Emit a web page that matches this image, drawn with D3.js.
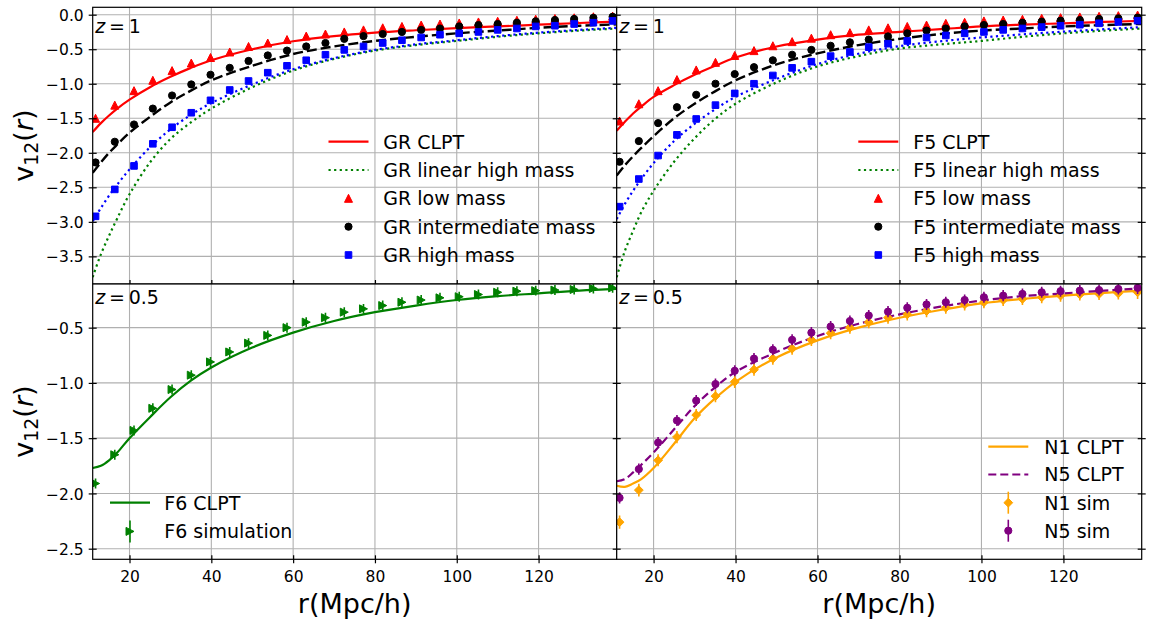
<!DOCTYPE html>
<html><head><meta charset="utf-8">
<script src="https://cdn.jsdelivr.net/npm/d3@7"></script>
<style>body{margin:0;background:#fff} text{font-family:"DejaVu Sans",sans-serif;fill:#000}</style>
</head><body><svg id="c" width="1154" height="621"></svg>
<script>
// ---------------- data ----------------
const r = [11.7, 16.4, 21.1, 25.7, 30.4, 35.1, 39.8, 44.5, 49.1, 53.8, 58.5, 63.2, 67.9, 72.5, 77.2, 81.9, 86.6, 91.3, 95.9, 100.6, 105.3, 110.0, 114.7, 119.3, 124.0, 128.7, 133.4, 138.1];

const grLow  = [-1.50, -1.31, -1.10, -0.95, -0.81, -0.70, -0.62, -0.54, -0.46, -0.41, -0.36, -0.31, -0.28, -0.25, -0.22, -0.19, -0.17, -0.15, -0.135, -0.12, -0.105, -0.095, -0.08, -0.065, -0.055, -0.045, -0.03, -0.02];
const grInt  = [-2.14, -1.84, -1.59, -1.36, -1.17, -1.01, -0.87, -0.77, -0.67, -0.59, -0.52, -0.46, -0.41, -0.35, -0.31, -0.28, -0.25, -0.22, -0.20, -0.17, -0.15, -0.135, -0.116, -0.096, -0.077, -0.062, -0.045, -0.03];
const grHigh = [-2.92, -2.53, -2.19, -1.87, -1.63, -1.42, -1.24, -1.09, -0.96, -0.84, -0.74, -0.66, -0.58, -0.51, -0.46, -0.41, -0.37, -0.33, -0.29, -0.27, -0.25, -0.22, -0.20, -0.17, -0.16, -0.135, -0.116, -0.09];

const f5Low  = [-1.54, -1.29, -1.10, -0.94, -0.80, -0.69, -0.59, -0.52, -0.45, -0.39, -0.34, -0.29, -0.26, -0.22, -0.19, -0.17, -0.15, -0.125, -0.11, -0.09, -0.077, -0.067, -0.053, -0.043, -0.033, -0.023, -0.014, -0.005];
const f5Int  = [-2.13, -1.83, -1.57, -1.34, -1.16, -1.00, -0.86, -0.76, -0.66, -0.58, -0.51, -0.45, -0.40, -0.36, -0.315, -0.27, -0.23, -0.20, -0.17, -0.15, -0.135, -0.116, -0.10, -0.087, -0.077, -0.062, -0.053, -0.043];
const f5High = [-2.78, -2.38, -2.04, -1.74, -1.51, -1.31, -1.14, -1.00, -0.88, -0.77, -0.68, -0.60, -0.54, -0.47, -0.42, -0.38, -0.33, -0.30, -0.27, -0.25, -0.22, -0.20, -0.18, -0.16, -0.145, -0.125, -0.106, -0.087];

const f6Sim  = [-1.91, -1.65, -1.43, -1.23, -1.06, -0.93, -0.81, -0.72, -0.64, -0.57, -0.50, -0.45, -0.41, -0.36, -0.33, -0.30, -0.27, -0.25, -0.23, -0.22, -0.20, -0.18, -0.17, -0.165, -0.16, -0.155, -0.146, -0.14];
const f6Err  = [0.045, 0.045, 0.045, 0.045, 0.045, 0.045, 0.045, 0.045, 0.045, 0.045, 0.045, 0.045, 0.045, 0.045, 0.045, 0.045, 0.045, 0.045, 0.045, 0.045, 0.045, 0.045, 0.045, 0.045, 0.045, 0.045, 0.045, 0.045];
const n1Sim  = [-2.26, -1.97, -1.70, -1.49, -1.29, -1.12, -0.99, -0.88, -0.78, -0.69, -0.61, -0.55, -0.50, -0.45, -0.41, -0.38, -0.35, -0.32, -0.29, -0.27, -0.25, -0.24, -0.225, -0.21, -0.20, -0.195, -0.19, -0.18];
const n1Err  = [0.06, 0.057, 0.055, 0.055, 0.055, 0.055, 0.055, 0.055, 0.055, 0.055, 0.055, 0.055, 0.055, 0.055, 0.055, 0.055, 0.055, 0.055, 0.055, 0.055, 0.055, 0.055, 0.055, 0.055, 0.055, 0.055, 0.055, 0.06];
const n5Sim  = [-2.04, -1.78, -1.54, -1.34, -1.16, -1.01, -0.89, -0.78, -0.70, -0.61, -0.545, -0.49, -0.44, -0.39, -0.355, -0.32, -0.29, -0.27, -0.25, -0.225, -0.21, -0.195, -0.18, -0.17, -0.165, -0.16, -0.15, -0.14];
const n5Err  = [0.05, 0.05, 0.05, 0.05, 0.05, 0.05, 0.05, 0.05, 0.05, 0.05, 0.05, 0.05, 0.05, 0.05, 0.05, 0.05, 0.05, 0.05, 0.05, 0.05, 0.05, 0.05, 0.05, 0.05, 0.05, 0.05, 0.05, 0.055];

const rLine = [11, 13, 15, 17, 20, 25, 30, 35, 40, 50, 60, 70, 80, 90, 100, 110, 120, 130, 139.1];
const grClpt    = [-1.70, -1.57, -1.46, -1.36, -1.23, -1.05, -0.90, -0.77, -0.66, -0.50, -0.385, -0.31, -0.26, -0.225, -0.195, -0.17, -0.145, -0.12, -0.10];
const grIntLin  = [-2.29, -2.14, -2.00, -1.88, -1.71, -1.48, -1.27, -1.10, -0.95, -0.74, -0.57, -0.46, -0.38, -0.32, -0.27, -0.23, -0.19, -0.16, -0.14];
const grHighLin = [-2.99, -2.80, -2.62, -2.46, -2.24, -1.92, -1.66, -1.45, -1.28, -1.01, -0.79, -0.63, -0.51, -0.43, -0.37, -0.31, -0.26, -0.22, -0.19];
const grLinear  = [-3.80, -3.47, -3.20, -2.95, -2.60, -2.14, -1.80, -1.56, -1.36, -1.05, -0.81, -0.64, -0.52, -0.44, -0.38, -0.32, -0.27, -0.23, -0.20];
const f5Clpt    = [-1.68, -1.55, -1.43, -1.33, -1.19, -1.02, -0.87, -0.74, -0.62, -0.46, -0.36, -0.29, -0.25, -0.21, -0.17, -0.145, -0.125, -0.105, -0.09];
const f5IntLin  = [-2.33, -2.18, -2.05, -1.93, -1.76, -1.50, -1.29, -1.11, -0.95, -0.72, -0.56, -0.44, -0.35, -0.28, -0.23, -0.20, -0.17, -0.15, -0.135];
const f5HighLin = [-2.96, -2.74, -2.55, -2.38, -2.15, -1.83, -1.58, -1.37, -1.19, -0.93, -0.715, -0.565, -0.455, -0.385, -0.33, -0.285, -0.245, -0.21, -0.18];
const f5Linear  = [-3.80, -3.42, -3.13, -2.86, -2.55, -2.13, -1.79, -1.51, -1.29, -0.98, -0.75, -0.60, -0.49, -0.43, -0.38, -0.32, -0.27, -0.23, -0.20];
const f6Clpt    = [-1.77, -1.75, -1.70, -1.63, -1.50, -1.31, -1.13, -0.98, -0.86, -0.68, -0.545, -0.44, -0.36, -0.30, -0.25, -0.215, -0.19, -0.165, -0.15];
const n1Clpt    = [-1.93, -1.94, -1.91, -1.87, -1.77, -1.55, -1.32, -1.14, -0.99, -0.77, -0.615, -0.50, -0.41, -0.34, -0.28, -0.24, -0.21, -0.185, -0.165];
const n5Clpt    = [-1.89, -1.87, -1.81, -1.74, -1.63, -1.42, -1.21, -1.04, -0.90, -0.72, -0.575, -0.465, -0.38, -0.31, -0.255, -0.215, -0.19, -0.165, -0.145];

const xTicks = [20, 40, 60, 80, 100, 120];
const yTicksTop = [0.0, -0.5, -1.0, -1.5, -2.0, -2.5, -3.0, -3.5];
const yTicksBot = [-0.5, -1.0, -1.5, -2.0, -2.5];

const legendTL = ["GR CLPT", "GR linear high mass", "GR low mass", "GR intermediate mass", "GR high mass"];
const legendTR = ["F5 CLPT", "F5 linear high mass", "F5 low mass", "F5 intermediate mass", "F5 high mass"];
const legendBL = ["F6 CLPT", "F6 simulation"];
const legendBR = ["N1 CLPT", "N5 CLPT", "N1 sim", "N5 sim"];

// ---------------- layout ----------------
const svg = d3.select("#c");
svg.append("rect").attr("width", 1154).attr("height", 621).attr("fill", "#fff");
const L = 92.7, M = 616.7, R = 1141.7, T = 7.3, MID = 284, B = 559.3;
const xDomain = [11.0, 139.1];
const fmt = d3.format(".1f");

const C = {red: "#ff0000", green: "#008000", blue: "#0000ff", black: "#000000", orange: "#ffa500", purple: "#800080"};

function markerPath(type, cx, cy) {
  if (type === "tri") { const h = 4; return `M${cx},${cy-h}L${cx+h},${cy+h}L${cx-h},${cy+h}Z`; }
  if (type === "triR") { const h = 4; return `M${cx+h},${cy}L${cx-h},${cy-h}L${cx-h},${cy+h}Z`; }
  if (type === "sq") { const h = 3.3; return `M${cx-h},${cy-h}h${2*h}v${2*h}h${-2*h}Z`; }
  if (type === "dia") { const d = 4.4; return `M${cx},${cy-d}L${cx+d},${cy}L${cx},${cy+d}L${cx-d},${cy}Z`; }
  if (type === "circ") { const q = 3.6; return `M${cx-q},${cy}a${q},${q} 0 1,0 ${2*q},0a${q},${q} 0 1,0 ${-2*q},0Z`; }
}

let clipId = 0;
function panel(cfg) {
  const x = d3.scaleLinear().domain(xDomain).range([cfg.x0, cfg.x1]);
  const y = d3.scaleLinear().domain(cfg.yDom).range([cfg.y1, cfg.y0]);
  const g = svg.append("g");
  g.append("rect").attr("x", cfg.x0).attr("y", cfg.y0).attr("width", cfg.x1 - cfg.x0).attr("height", cfg.y1 - cfg.y0).attr("fill", "#fff");
  // grid
  g.append("g").selectAll("line").data(xTicks).join("line")
    .attr("x1", d => x(d)).attr("x2", d => x(d)).attr("y1", cfg.y0).attr("y2", cfg.y1)
    .attr("stroke", "#b0b0b0").attr("stroke-width", 1.1);
  g.append("g").selectAll("line").data(cfg.yTicks).join("line")
    .attr("x1", cfg.x0).attr("x2", cfg.x1).attr("y1", d => y(d)).attr("y2", d => y(d))
    .attr("stroke", "#b0b0b0").attr("stroke-width", 1.1);
  const id = "clip" + (clipId++);
  g.append("clipPath").attr("id", id).append("rect")
    .attr("x", cfg.x0).attr("y", cfg.y0).attr("width", cfg.x1 - cfg.x0).attr("height", cfg.y1 - cfg.y0);
  const plot = g.append("g").attr("clip-path", `url(#${id})`);
  const line = d3.line().x(d => x(d[0])).y(d => y(d[1])).curve(d3.curveCatmullRom.alpha(0.5));
  cfg.lines.forEach(s => {
    plot.append("path").attr("d", line(d3.zip(rLine, s.v))).attr("fill", "none")
      .attr("stroke", s.color).attr("stroke-width", s.w)
      .attr("stroke-dasharray", s.dash || null);
  });
  cfg.points.forEach(s => {
    if (s.err) {
      plot.append("g").selectAll("line").data(d3.zip(r, s.v, s.err)).join("line")
        .attr("x1", d => x(d[0])).attr("x2", d => x(d[0]))
        .attr("y1", d => y(d[1] - d[2])).attr("y2", d => y(d[1] + d[2]))
        .attr("stroke", s.color).attr("stroke-width", 1.6);
    }
    plot.append("g").selectAll("path").data(d3.zip(r, s.v)).join("path")
      .attr("d", d => markerPath(s.m, x(d[0]), y(d[1])))
      .attr("fill", s.color).attr("stroke", s.color).attr("stroke-width", 1);
  });
  // spines
  g.append("rect").attr("x", cfg.x0).attr("y", cfg.y0).attr("width", cfg.x1 - cfg.x0).attr("height", cfg.y1 - cfg.y0)
    .attr("fill", "none").attr("stroke", "#000").attr("stroke-width", 1.2);
  // x ticks (in-out)
  const ax = g.append("g").attr("transform", `translate(0,${cfg.y1})`)
    .call(d3.axisBottom(x).tickValues(xTicks).tickSize(4).tickFormat(cfg.xLabels ? d3.format("d") : () => ""));
  ax.select(".domain").remove();
  ax.selectAll(".tick line").attr("y1", -4).attr("y2", 4).attr("stroke", "#000").attr("stroke-width", 1.2);
  ax.selectAll(".tick text").attr("y", 22.4).attr("dy", null).attr("font-size", "15.5px")
    .attr("font-family", "DejaVu Sans").attr("fill", "#000");
  // y ticks left
  const ay = g.append("g").attr("transform", `translate(${cfg.x0},0)`)
    .call(d3.axisLeft(y).tickValues(cfg.yTicks).tickSize(4).tickFormat(cfg.yLabels ? fmt : () => ""));
  ay.select(".domain").remove();
  ay.selectAll(".tick line").attr("x1", -4).attr("x2", 4).attr("stroke", "#000").attr("stroke-width", 1.2);
  ay.selectAll(".tick text").attr("x", -9).attr("dy", "0.36em").attr("font-size", "15.5px")
    .attr("font-family", "DejaVu Sans").attr("fill", "#000");
  if (cfg.rightTicks) {
    const ayr = g.append("g").attr("transform", `translate(${cfg.x1},0)`)
      .call(d3.axisRight(y).tickValues(cfg.yTicks).tickSize(4).tickFormat(() => ""));
    ayr.select(".domain").remove();
    ayr.selectAll(".tick line").attr("x1", -4).attr("x2", 4).attr("stroke", "#000").attr("stroke-width", 1.2);
  }
  // z label
  const zt = g.append("text").attr("x", cfg.x0 + 2.5).attr("y", cfg.y0 + cfg.zdy).attr("font-size", "19px");
  zt.append("tspan").attr("font-style", "italic").text("z");
  zt.append("tspan").text("\u2009=\u2009" + cfg.z);
  // legend
  const lg = g.append("g");
  cfg.legend.forEach((it, i) => {
    const yy = cfg.leg.rows[i];
    const hx0 = cfg.leg.hx, hx1 = cfg.leg.hx + 40, mx = cfg.leg.hx + 20;
    if (it.kind === "line") {
      lg.append("line").attr("x1", hx0).attr("x2", hx1).attr("y1", yy).attr("y2", yy)
        .attr("stroke", it.color).attr("stroke-width", it.w).attr("stroke-dasharray", it.dash || null);
    } else {
      if (it.err) lg.append("line").attr("x1", mx).attr("x2", mx).attr("y1", yy - 11).attr("y2", yy + 11)
        .attr("stroke", it.color).attr("stroke-width", 1.6);
      lg.append("path").attr("d", markerPath(it.m, mx, yy)).attr("fill", it.color).attr("stroke", it.color).attr("stroke-width", 1);
    }
    lg.append("text").attr("x", cfg.leg.tx).attr("y", yy + 6.9).attr("font-size", "19px").text(it.label);
  });
  return {x, y};
}

const rowsTop = [141.7, 170, 198.3, 226.7, 255];

panel({x0: L, x1: M, y0: T, y1: MID, yDom: [-3.9, 0.107], yTicks: yTicksTop, yLabels: true, xLabels: false, rightTicks: false,
  z: "1", zdy: 25.8,
  lines: [
    {v: grLinear, color: C.green, w: 2.2, dash: "2.2,3.4"},
    {v: grHighLin, color: C.blue, w: 2.2, dash: "2.2,3.4"},
    {v: grIntLin, color: C.black, w: 2.4, dash: "10,4"},
    {v: grClpt, color: C.red, w: 2.2}
  ],
  points: [
    {v: grLow, color: C.red, m: "tri"},
    {v: grInt, color: C.black, m: "circ"},
    {v: grHigh, color: C.blue, m: "sq"}
  ],
  legend: [
    {kind: "line", color: C.red, w: 2.2, label: legendTL[0]},
    {kind: "line", color: C.green, w: 2.2, dash: "2.2,3.4", label: legendTL[1]},
    {kind: "mk", color: C.red, m: "tri", label: legendTL[2]},
    {kind: "mk", color: C.black, m: "circ", label: legendTL[3]},
    {kind: "mk", color: C.blue, m: "sq", label: legendTL[4]}
  ],
  leg: {hx: 328.5, tx: 383.3, rows: rowsTop}
});

panel({x0: M, x1: R, y0: T, y1: MID, yDom: [-3.9, 0.107], yTicks: yTicksTop, yLabels: false, xLabels: false, rightTicks: true,
  z: "1", zdy: 25.8,
  lines: [
    {v: f5Linear, color: C.green, w: 2.2, dash: "2.2,3.4"},
    {v: f5HighLin, color: C.blue, w: 2.2, dash: "2.2,3.4"},
    {v: f5IntLin, color: C.black, w: 2.4, dash: "10,4"},
    {v: f5Clpt, color: C.red, w: 2.2}
  ],
  points: [
    {v: f5Low, color: C.red, m: "tri"},
    {v: f5Int, color: C.black, m: "circ"},
    {v: f5High, color: C.blue, m: "sq"}
  ],
  legend: [
    {kind: "line", color: C.red, w: 2.2, label: legendTR[0]},
    {kind: "line", color: C.green, w: 2.2, dash: "2.2,3.4", label: legendTR[1]},
    {kind: "mk", color: C.red, m: "tri", label: legendTR[2]},
    {kind: "mk", color: C.black, m: "circ", label: legendTR[3]},
    {kind: "mk", color: C.blue, m: "sq", label: legendTR[4]}
  ],
  leg: {hx: 858.3, tx: 913.3, rows: rowsTop}
});

panel({x0: L, x1: M, y0: MID, y1: B, yDom: [-2.596, -0.105], yTicks: yTicksBot, yLabels: true, xLabels: true, rightTicks: false,
  z: "0.5", zdy: 19.5,
  lines: [
    {v: f6Clpt, color: C.green, w: 2.2}
  ],
  points: [
    {v: f6Sim, err: f6Err, color: C.green, m: "triR"}
  ],
  legend: [
    {kind: "line", color: C.green, w: 2.2, label: legendBL[0]},
    {kind: "mk", color: C.green, m: "triR", err: true, label: legendBL[1]}
  ],
  leg: {hx: 110, tx: 164.3, rows: [502.7, 531.4]}
});

panel({x0: M, x1: R, y0: MID, y1: B, yDom: [-2.596, -0.105], yTicks: yTicksBot, yLabels: false, xLabels: true, rightTicks: true,
  z: "0.5", zdy: 19.5,
  lines: [
    {v: n1Clpt, color: C.orange, w: 2.2},
    {v: n5Clpt, color: C.purple, w: 2.2, dash: "8,4"}
  ],
  points: [
    {v: n1Sim, err: n1Err, color: C.orange, m: "dia"},
    {v: n5Sim, err: n5Err, color: C.purple, m: "circ"}
  ],
  legend: [
    {kind: "line", color: C.orange, w: 2.2, label: legendBR[0]},
    {kind: "line", color: C.purple, w: 2.2, dash: "8,4", label: legendBR[1]},
    {kind: "mk", color: C.orange, m: "dia", err: true, label: legendBR[2]},
    {kind: "mk", color: C.purple, m: "circ", err: true, label: legendBR[3]}
  ],
  leg: {hx: 988.3, tx: 1044.3, rows: [446.7, 474.5, 502.7, 530.7]}
});

// axis titles
[(L + M) / 2, (M + R) / 2].forEach(cx => {
  svg.append("text").attr("x", cx).attr("y", 612.7).attr("text-anchor", "middle").attr("font-size", "27px").text("r(Mpc/h)");
});
[(T + MID) / 2, (MID + B) / 2].forEach(cy => {
  const t = svg.append("text").attr("transform", `translate(33,${cy}) rotate(-90)`).attr("text-anchor", "middle").attr("font-size", "27px");
  t.append("tspan").text("v");
  t.append("tspan").attr("font-size", "19px").attr("dy", 5).text("12");
  t.append("tspan").attr("dy", -5).text("(");
  t.append("tspan").attr("font-style", "italic").text("r");
  t.append("tspan").text(")");
});
</script>
</body></html>
